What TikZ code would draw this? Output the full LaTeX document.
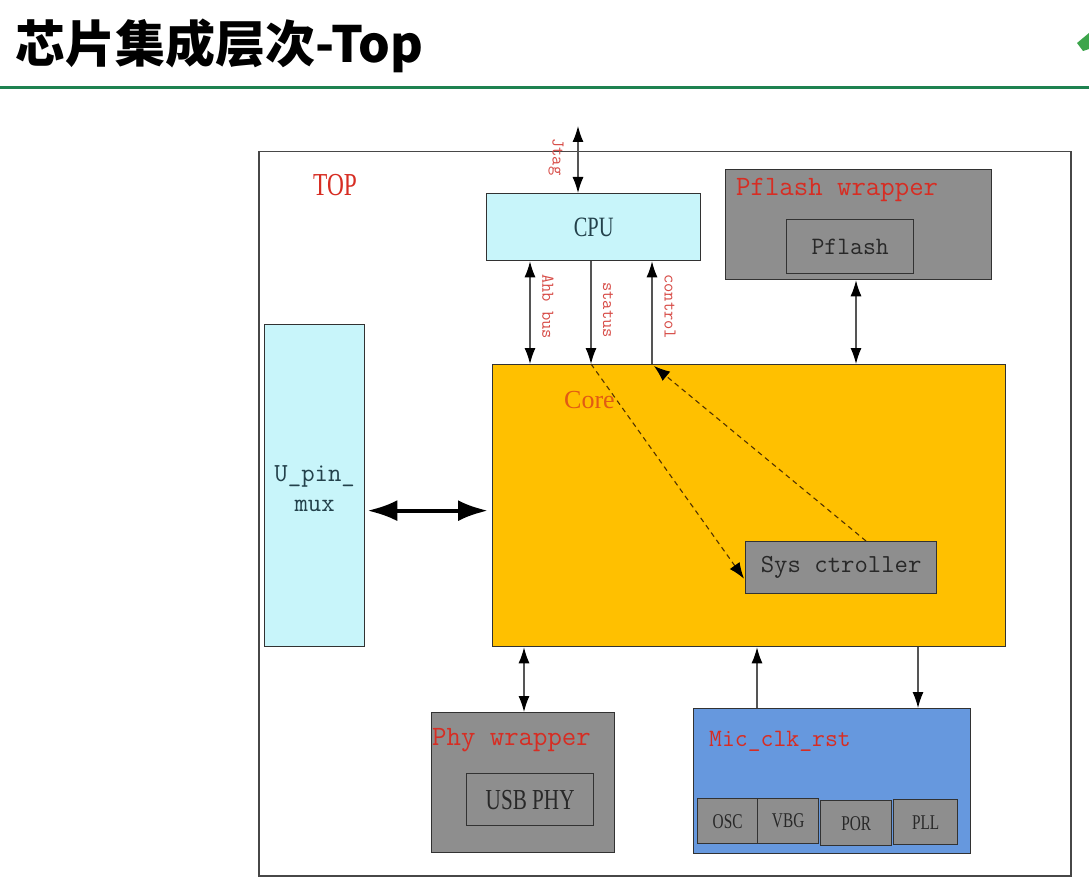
\documentclass[tikz,border=0pt]{standalone}
\usepackage{fontspec}
\usetikzlibrary{arrows.meta,calc}
\newfontfamily\cjk{Noto Sans CJK SC}
\newfontfamily\nserif[FakeStretch=0.73]{Liberation Serif}
\newfontfamily\oserif{Liberation Serif}
\definecolor{titlegreen}{RGB}{30,130,80}
\definecolor{logogreen}{RGB}{60,165,75}
\definecolor{lblred}{RGB}{215,45,35}
\definecolor{sigred}{RGB}{215,75,70}
\definecolor{corered}{RGB}{225,90,20}
\definecolor{cyanfill}{RGB}{200,245,250}
\definecolor{grayfill}{RGB}{142,142,142}
\definecolor{corefill}{RGB}{255,192,0}
\definecolor{micfill}{RGB}{102,152,222}
\definecolor{edge}{RGB}{50,50,50}
\definecolor{wire}{RGB}{85,85,85}
\definecolor{dashc}{RGB}{80,50,0}
\definecolor{cputext}{RGB}{35,65,75}
\definecolor{boxtext}{RGB}{40,40,40}
\tikzset{
  blk/.style={draw=edge, line width=1.3pt, rectangle, inner sep=0pt, anchor=north west},
  cyanblk/.style={blk, fill=cyanfill},
  grayblk/.style={blk, fill=grayfill},
  lbl/.style={text=lblred, font=\ttfamily\fontsize{28}{28}\selectfont, anchor=base west, inner sep=0pt},
  sig/.style={text=sigred, font=\ttfamily\fontsize{18}{18}\selectfont, rotate=-90, inner sep=0pt, anchor=west},
  wirearrow/.style={draw=wire, line width=1.2pt},
  tip/.tip={Latex[length=16pt,width=11pt,color=black]},
  hd/.style={-tip},
  dhd/.style={tip-tip},
  dashline/.style={draw=dashc, line width=1.1pt, dash pattern=on 5pt off 4pt, -{Latex[length=16pt,width=12pt,color=black]}},
}
\begin{document}
\begin{tikzpicture}[x=1pt,y=-1pt]
\useasboundingbox (0,0) rectangle (1089,885);
\fill[white] (0,0) rectangle (1089,885);

% heading and rule
\node (title) [anchor=base west, inner sep=0pt, font=\cjk\bfseries\fontsize{50}{50}\selectfont] at (15,63) {芯片集成层次-Top};
\draw[titlegreen, line width=3pt] (0,88) -- (1089,88);
\fill[logogreen] (1089,33) -- (1077,43) -- (1083,51) -- (1089,49) -- cycle;

% outer TOP frame
\node (top) [blk, draw=edge!90, line width=1.5pt, minimum width=812pt, minimum height=724pt] at (258,151) {};
\node (toplbl) [anchor=base west, inner sep=0pt, text=lblred, font=\nserif\fontsize{32}{32}\selectfont] at (313,196) {TOP};

% CPU
\node (cpu) [cyanblk, minimum width=214pt, minimum height=67pt] at (486,193) {};
\node (cputxt) [text=cputext, font=\nserif\fontsize{28}{28}\selectfont] at (cpu.center) {CPU};

% Pflash wrapper
\node (pfw) [grayblk, minimum width=266pt, minimum height=110pt] at (725,169) {};
\node (pfwlbl) [lbl] at (736,196) {Pflash wrapper};
\node (pf) [grayblk, minimum width=127pt, minimum height=54pt] at (786,219) {};
\node (pftxt) [text=boxtext, font=\ttfamily\fontsize{25}{25}\selectfont] at (pf.center) {Pflash};

% U_pin_mux
\node (mux) [cyanblk, minimum width=100pt, minimum height=322pt] at (264,324) {};
\node (muxtxt) [text=cputext, font=\ttfamily\fontsize{26}{30}\selectfont, align=center] at ($(mux.center)+(0,3)$) {U\_pin\_\\mux};

% Core
\node (core) [blk, fill=corefill, minimum width=513pt, minimum height=282pt] at (492,364) {};
\node (corelbl) [anchor=base west, inner sep=0pt, text=corered, font=\oserif\fontsize{26}{26}\selectfont] at (564,408) {Core};
\node (sys) [grayblk, minimum width=191pt, minimum height=52pt] at (745,541) {};
\node (systxt) [text=boxtext, font=\ttfamily\fontsize{26}{26}\selectfont] at (sys.center) {Sys ctroller};

% Phy wrapper
\node (phyw) [grayblk, minimum width=183pt, minimum height=140pt] at (431,712) {};
\node (phywlbl) [lbl] at (432,745) {Phy wrapper};
\node (usb) [grayblk, minimum width=127pt, minimum height=52pt] at (466,773) {};
\node (usbtxt) [text=boxtext, font=\nserif\fontsize{29}{29}\selectfont] at (usb.center) {USB PHY};

% Mic_clk_rst
\node (mic) [blk, fill=micfill, minimum width=277pt, minimum height=145pt] at (693,708) {};
\node (miclbl) [lbl, font=\ttfamily\fontsize{25}{25}\selectfont] at (709,746) {Mic\_clk\_rst};
\node (osc) [grayblk, minimum width=60pt, minimum height=45pt] at (697,798) {};
\node (vbg) [grayblk, minimum width=61pt, minimum height=45pt] at (757,798) {};
\node (por) [grayblk, minimum width=71pt, minimum height=45pt] at (820,800) {};
\node (pll) [grayblk, minimum width=64pt, minimum height=45pt] at (893,799) {};
\foreach \b/\t in {osc/OSC, vbg/VBG, por/POR, pll/PLL}
  \node (\b txt) [text=boxtext, font=\nserif\fontsize{21}{21}\selectfont] at (\b.center) {\t};

% x positions of the vertical buses
\coordinate (jtagx) at (578,0);
\coordinate (ahbx) at (530,0);
\coordinate (statx) at (591,0);
\coordinate (ctrlx) at (652,0);
\coordinate (pfx) at (856,0);
\coordinate (phyx) at (524,0);
\coordinate (micupx) at (757,0);
\coordinate (micdnx) at (918,0);
\coordinate (jtagend) at (578,126);

% buses
\draw[wirearrow, dhd] (jtagend) -- (cpu.north -| jtagx);
\draw[wirearrow, dhd] (cpu.south -| ahbx) -- (core.north -| ahbx);
\draw[wirearrow, hd] (cpu.south -| statx) -- (core.north -| statx);
\draw[wirearrow, hd] (core.north -| ctrlx) -- (cpu.south -| ctrlx);
\draw[wirearrow, dhd] (pfw.south -| pfx) -- (core.north -| pfx);
\draw[wirearrow, dhd] (core.south -| phyx) -- (phyw.north -| phyx);
\draw[wirearrow, hd] (mic.north -| micupx) -- (core.south -| micupx);
\draw[wirearrow, hd] (core.south -| micdnx) -- (mic.north -| micdnx);
\draw[black, line width=4pt, {Latex[length=30pt,width=21pt]}-{Latex[length=30pt,width=21pt]}] ($(mux.east)+(2,25)$) -- ($(core.west |- mux.east)+(-4,25)$);

% bus names
\node (jtaglbl) [sig] at (556,138) {Jtag};
\node (ahblbl) [sig] at (548,274) {Ahb bus};
\node (statlbl) [sig] at (608,282) {status};
\node (ctrllbl) [sig] at (670,274) {control};

% control paths through the system controller
\draw[dashline] (core.north -| statx) -- ($(sys.west)+(-1,11)$);
\draw[dashline] (sys.north -| 866,0) -- ($(core.north -| ctrlx)+(2,2)$);
\end{tikzpicture}
\end{document}
